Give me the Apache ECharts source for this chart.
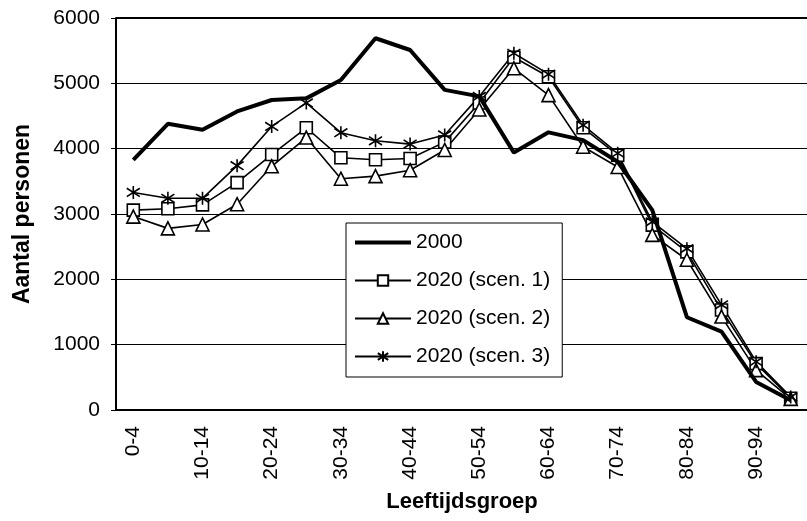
<!DOCTYPE html>
<html><head><meta charset="utf-8">
<script src="https://cdn.jsdelivr.net/npm/echarts@6/dist/echarts.min.js"></script>
<style>html,body{margin:0;padding:0;background:#fff}#c{width:807px;height:521px}</style>
</head><body><div id="c"></div>
<script>
var categories = ['0-4','5-9','10-14','15-19','20-24','25-29','30-34','35-39','40-44','45-49','50-54','55-59','60-64','65-69','70-74','75-79','80-84','85-89','90-94','95-99'];
var y2000 = [3830,4380,4290,4570,4745,4770,5050,5690,5510,4900,4800,3940,4250,4130,3800,3060,1420,1200,430,150];
var scen1 = [3060,3080,3140,3480,3910,4320,3860,3830,3850,4100,4700,5400,5100,4320,3900,2830,2420,1530,710,180];
var scen2 = [2960,2780,2840,3150,3730,4170,3540,3580,3670,3980,4600,5230,4820,4030,3720,2680,2300,1430,610,170];
var scen3 = [3330,3240,3240,3740,4340,4700,4245,4120,4070,4210,4800,5460,5140,4360,3930,2880,2470,1610,740,200];
var yTicks = [0,1000,2000,3000,4000,5000,6000];

var font = 'Liberation Sans, Arial, sans-serif';
var star = 'path://M5,0 L5,10 M1.2,1.8 L8.8,8.2 M8.8,1.8 L1.2,8.2';
var chart = echarts.init(document.getElementById('c'));
function sc(name, data, symbol, size) {
  return {
    name: name, type: 'line', data: data, symbol: symbol, symbolSize: size,
    lineStyle: {color: '#000', width: 1.6},
    itemStyle: {color: '#fff', borderColor: '#000', borderWidth: 1.6},
    animation: false, z: 3
  };
}
chart.setOption({
  animation: false,
  backgroundColor: '#fff',
  grid: {left: 116, right: -1, top: 18, bottom: 111, containLabel: false, outerBoundsMode: 'none'},
  legend: {
    orient: 'vertical', left: 346, top: 223,
    padding: [9, 12, 10, 7],
    backgroundColor: '#fff', borderColor: '#000', borderWidth: 1,
    itemWidth: 56, itemHeight: 13, itemGap: 17,
    textStyle: {fontFamily: font, fontSize: 21, color: '#000'},
    data: [
      {name: '2000', lineStyle: {width: 4, color: '#000'}},
      '2020 (scen. 1)', '2020 (scen. 2)', '2020 (scen. 3)'
    ]
  },
  xAxis: {
    type: 'category', data: categories, boundaryGap: true,
    name: 'Leeftijdsgroep', nameLocation: 'middle', nameGap: 81,
    nameTextStyle: {fontFamily: font, fontSize: 22, fontWeight: 'bold', color: '#000'},
    axisLine: {lineStyle: {color: '#000', width: 2}},
    axisTick: {interval: 0, length: 5, lineStyle: {color: '#000', width: 1}},
    axisLabel: {interval: 1, rotate: 90, margin: 16, fontFamily: font, fontSize: 21, color: '#000'}
  },
  yAxis: {
    type: 'value', min: 0, max: 6000, interval: 1000,
    name: 'Aantal personen', nameLocation: 'middle', nameGap: 82,
    nameTextStyle: {fontFamily: font, fontSize: 23, fontWeight: 'bold', color: '#000'},
    axisLine: {show: true, lineStyle: {color: '#000', width: 2}},
    axisTick: {show: true, length: 5, lineStyle: {color: '#000', width: 1}},
    axisLabel: {margin: 16, fontFamily: font, fontSize: 21, color: '#000',
      formatter: function (v) { return yTicks.indexOf(v) >= 0 ? String(v) : ''; }},
    splitLine: {show: true, lineStyle: {color: '#000', width: 1}}
  },
  series: [
    {
      name: '2000', type: 'line', data: y2000, symbol: 'circle', showSymbol: false,
      lineStyle: {color: '#000', width: 4}, itemStyle: {color: 'rgba(0,0,0,0)'}, z: 4,
      markLine: {silent: true, symbol: 'none', label: {show: false},
        lineStyle: {color: '#000', width: 2, type: 'solid'}, data: [{yAxis: 6000}]}
    },
    sc('2020 (scen. 1)', scen1, 'rect', 12),
    sc('2020 (scen. 2)', scen2, 'triangle', 13),
    sc('2020 (scen. 3)', scen3, star, 13)
  ]
});
</script></body></html>
